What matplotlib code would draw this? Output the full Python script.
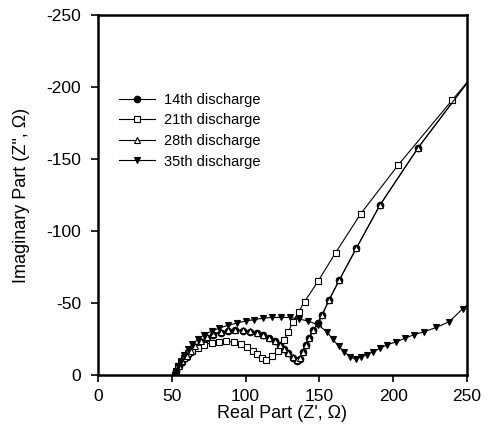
import numpy as np
import matplotlib
matplotlib.use("Agg")
import matplotlib.pyplot as plt

plt.rcParams['font.family'] = ['Liberation Sans', 'DejaVu Sans']
plt.rcParams['axes.unicode_minus'] = False

# Nyquist data (Z' and Z'' in ohm)
z14_re = [52, 53, 55, 57, 60, 63, 66, 70, 74, 78, 83, 88, 93, 98, 103, 108, 112, 116,
          120, 123, 126, 129, 132, 135, 137, 139, 141, 143, 146, 149, 152, 156.5, 163.5,
          175, 191, 217, 256]
z14_im = [0, -3, -6, -9, -12.5, -16, -19.5, -23, -26, -28, -29.5, -30.5, -31, -30.5,
          -30, -29, -27.5, -26, -23.5, -21, -18, -15, -12, -10, -11, -16, -21, -26,
          -31, -36, -42, -52, -66, -88, -118, -158, -211]

z21_re = [52, 53, 54, 56, 58, 61, 64, 68, 72, 77, 82, 87, 92, 97, 101, 105, 108, 111,
          114, 118, 122, 126, 129, 132, 136, 140, 149, 161, 178, 203.5, 240, 290]
z21_im = [0, -3, -6, -9, -12, -15, -17, -19, -21, -22.5, -23, -23.5, -23, -21.5,
          -19.5, -17, -14.5, -12, -10.5, -13.5, -17, -24, -30, -37, -44, -51, -65,
          -85, -112, -146, -191, -252]

z28_re = [52, 53, 55, 57, 60, 63, 66, 70, 74, 78, 83, 88, 93, 98, 103, 108, 112, 116,
          120, 123, 126, 129, 132, 135, 137, 139, 141, 143, 146, 149, 152, 156.5, 163.5,
          175, 191, 217, 256]
z28_im = [0, -3, -6.5, -9.5, -13, -16.5, -20, -23.5, -26.5, -28.5, -30, -31, -31.5, -31,
          -30.5, -29.5, -28, -26, -23.5, -21, -18, -15, -12.5, -10.5, -11.5, -16, -21,
          -26, -31, -36, -42, -52, -66, -88, -118, -158, -211]

z35_re = [52, 53, 54, 56, 58, 61, 64, 68, 72, 77, 82, 88, 94, 100, 106, 112, 118, 124,
          130, 136, 142, 149, 155, 159, 163, 167, 171, 174.5, 178, 182, 186, 191, 196,
          202, 208, 214, 221, 229, 238, 247, 258]
z35_im = [0, -3, -6, -10, -14, -18, -21.5, -25, -28, -30.5, -32.5, -34.5, -36, -37.5,
          -38.5, -39.5, -40, -40, -40, -39, -37.5, -35, -30, -25, -20, -16, -12.5, -11,
          -12.5, -14, -16, -18.5, -21, -23, -25.5, -28, -30, -33, -37, -46, -55]

labels = ['14th discharge', '21th discharge', '28th discharge', '35th discharge']

fig = plt.figure(figsize=(4.89, 4.44), dpi=100)
ax = fig.add_axes([0.2004, 0.1554, 0.7546, 0.8106])

ms = 4.7
ax.plot(z14_re, z14_im, '-', color='black', lw=0.8, marker='o', ms=ms,
        mfc='black', mec='black', mew=0.8, label=labels[0])
ax.plot(z21_re, z21_im, '-', color='black', lw=0.8, marker='s', ms=ms,
        mfc='white', mec='black', mew=0.8, label=labels[1])
ax.plot(z28_re, z28_im, '-', color='black', lw=0.8, marker='^', ms=ms,
        mfc='white', mec='black', mew=0.8, label=labels[2])
ax.plot(z35_re, z35_im, '-', color='black', lw=0.8, marker='v', ms=ms,
        mfc='black', mec='black', mew=0.8, label=labels[3])

ax.set_xlim(0, 250)
ax.set_ylim(0, -250)
ax.set_xticks([0, 50, 100, 150, 200, 250])
ax.set_yticks([0, -50, -100, -150, -200, -250])
ax.tick_params(direction='out', length=5, width=1.2, labelsize=12.5)
ax.tick_params(axis='y', pad=7)
ax.tick_params(axis='x', pad=5)
for s in ax.spines.values():
    s.set_linewidth(1.8)

ax.set_xlabel("Real Part (Z', \u03a9)", fontsize=13, labelpad=1)
ax.set_ylabel('Imaginary Part (Z", \u03a9)', fontsize=13, labelpad=12)

ax.legend(loc='upper left', bbox_to_anchor=(0.04, 0.80), frameon=False,
          fontsize=10.5, handlelength=2.5, labelspacing=0.45, handletextpad=0.6,
          borderaxespad=0)

fig.savefig('out.png', dpi=100)
